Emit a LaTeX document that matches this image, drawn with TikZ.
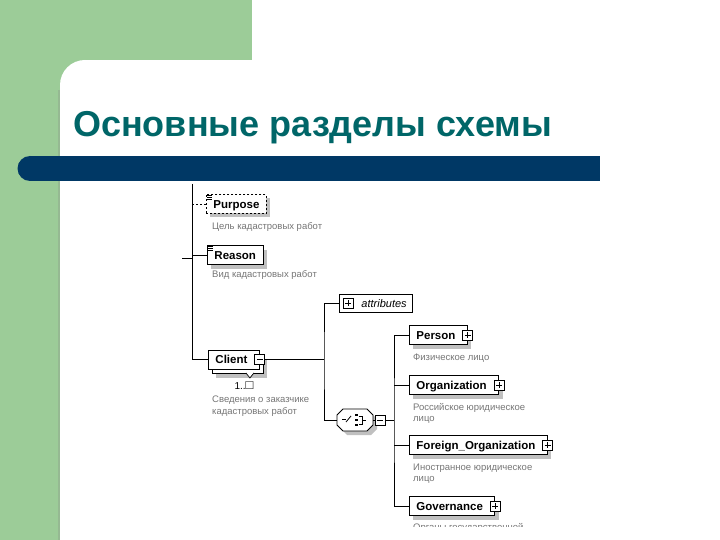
\documentclass[tikz,border=0pt]{standalone}
\usepackage{fontspec}
\setmainfont{Liberation Sans}
\usepackage{tikz}
\usetikzlibrary{positioning,shadows}
\definecolor{slidegreen}{RGB}{156,204,152}
\definecolor{barnavy}{RGB}{0,56,101}
\definecolor{titleteal}{RGB}{0,102,104}
\definecolor{descgray}{RGB}{118,118,118}
\definecolor{shadowgray}{RGB}{192,192,192}

\begin{document}
\begin{tikzpicture}[x=1pt,y=-1pt,
  elembase/.style={draw, fill=white, anchor=west, line width=0.9pt, minimum height=19pt, inner xsep=7pt, inner ysep=0pt, text height=10pt, text depth=1.4pt, font=\fontsize{11.5}{13}\selectfont\bfseries},
  elem/.style={elembase, drop shadow={shadow xshift=4pt, shadow yshift=-4pt, fill=shadowgray, opacity=1, draw=none}},
  kids/.style={execute at end node=\hspace{5pt}},
  desc/.style={anchor=north west, inner sep=0pt, align=left, text=descgray, font=\fontsize{9.5}{11.5}\selectfont},
  pm/.style={draw, fill=white, line width=0.8pt, minimum size=10pt, inner sep=0pt},
  plus/.style={pm, path picture={\draw[line width=0.8pt] ([xshift=2pt]path picture bounding box.west) -- ([xshift=-2pt]path picture bounding box.east) ([yshift=-2pt]path picture bounding box.north) -- ([yshift=2pt]path picture bounding box.south);}},
  minus/.style={pm, path picture={\draw[line width=0.8pt] ([xshift=2pt]path picture bounding box.west) -- ([xshift=-2pt]path picture bounding box.east);}},
  link/.style={line width=0.9pt}]
\useasboundingbox (0,0) rectangle (720,540);
\fill[white] (0,0) rectangle (720,540);
\fill[slidegreen] (0,0) rectangle (252,60);
\fill[slidegreen] (0,0) rectangle (60,540);
\fill[slidegreen] (0,0) rectangle (85,85);
\fill[white] (85,60) rectangle (720,540);
\fill[white] (60,85) rectangle (85,540);
\fill[white] (85,85) circle (25pt);
\fill[slidegreen!75!gray] (57.5,90) rectangle (60,540);
\fill[barnavy] (30,156) rectangle (600,181);
\fill[barnavy] (30,168.5) circle (12.5pt);
\node[anchor=base west, inner sep=0pt, text=titleteal, font=\fontsize{36}{40}\selectfont\bfseries] (title) at (73,137) {Основные разделы схемы};

\coordinate (rail) at (192,184);
\coordinate (root) at (182,258);
\node[elem, dash pattern=on 2pt off 2pt] (purp) at (206,204) {Purpose};
\node[elem] (reas) at (207,255) {Reason};
\foreach \n in {purp,reas}
  \foreach \i in {1,3,5}
    \draw[line width=0.7pt] ([shift={(1pt,{-\i*1pt})}]\n.north west) -- ++(5,0);
\node[desc] (purpd) at (212,222) {Цель кадастровых работ};
\node[desc] (reasd) at (212,270) {Вид кадастровых работ};

\node[elem, kids] (client2) at (212,364) {\phantom{Client}};
\node[elembase, kids] (client) at (208,359.5) {Client};
\node[minus] (cminus) at (client.east) {};
\draw[line width=0.7pt, fill=white] ([xshift=8pt,yshift=1pt]client2.south) -- ++(4,5) -- ++(4,-5);
\node[anchor=base, inner sep=0pt, font=\fontsize{10}{12}\selectfont] (mult) at (244,389.5) {1..{\fontsize{13}{13}\selectfont □}};
\node[desc] (clientd) at (212,396) {Сведения о заказчике\\кадастровых работ};

\draw[link] (rail) |- (client.west);
\draw[link] (root) -- (root -| rail);
\draw[link, dash pattern=on 2pt off 2pt] (purp.west -| rail) -- (purp.west);
\draw[link] (reas.west -| rail) -- (reas.west);

\node[elembase, inner xsep=6pt, minimum height=18pt, font=\fontsize{11}{13}\selectfont\itshape] (attr) at (339,303) {\hspace{16pt}attributes};
\node[plus] (aplus) at (348,303) {};

\node[minimum width=36pt, minimum height=22pt, inner sep=0pt] (seq) at (355,420) {};
\begin{scope}[shift={(seq.center)}]
  \fill[shadowgray] (-14,-1) -- (-8,-7) -- (16,-7) -- (22,-1) -- (22,9) -- (16,15) -- (-8,15) -- (-14,9) -- cycle;
  \draw[line width=0.9pt, fill=white] (-18,-5) -- (-12,-11) -- (12,-11) -- (18,-5) -- (18,5) -- (12,11) -- (-12,11) -- (-18,5) -- cycle;
  \draw[line width=0.8pt] (-13,-1) -- (-9,-1);
  \draw[line width=0.8pt] (-9,2) -- (-4,-4);
  \foreach \dy in {-5,0,5}
    \fill (0,{\dy-1.3}) rectangle ++(2.6,2.6);
  \draw[line width=0.8pt] (3.5,-4) -- (7,-4) -- (7,4) -- (3.5,4) (7,0) -- (11,0);
\end{scope}
\node[minus] (sminus) at ([xshift=7pt]seq.east) {};

\coordinate (split) at (324,359.5);
\draw[link] (cminus.east) -- (split);
\draw[link] (attr.west) -| (split) |- (seq.west);

\node[elem, kids] (person) at (409,335) {Person};
\node[elem, kids] (org) at (409,385) {Organization};
\node[elem, kids] (forg) at (409,445) {Foreign\_Organization};
\node[elem, kids] (gov) at (409,506) {Governance};
\foreach \n in {person,org,forg,gov}
  \node[plus] (\n plus) at (\n.east) {};
\node[desc] (persond) at (413,354) {Физическое лицо};
\node[desc] (orgd) at (413,403) {Российское юридическое\\лицо};
\node[desc] (forgd) at (413,463.5) {Иностранное юридическое\\лицо};
\begin{scope}
  \clip (400,517) rectangle (600,526);
  \node[desc] (govd) at (413,523) {Органы государственной};
\end{scope}

\coordinate (fork) at (394,420);
\draw[link] (seq.east) -- (sminus.west);
\draw[link] (sminus.east) -- (fork);
\draw[link] (person.west) -| (fork) |- (gov.west);
\draw[link] (org.west -| fork) -- (org.west);
\draw[link] (forg.west -| fork) -- (forg.west);
\end{tikzpicture}
\end{document}
